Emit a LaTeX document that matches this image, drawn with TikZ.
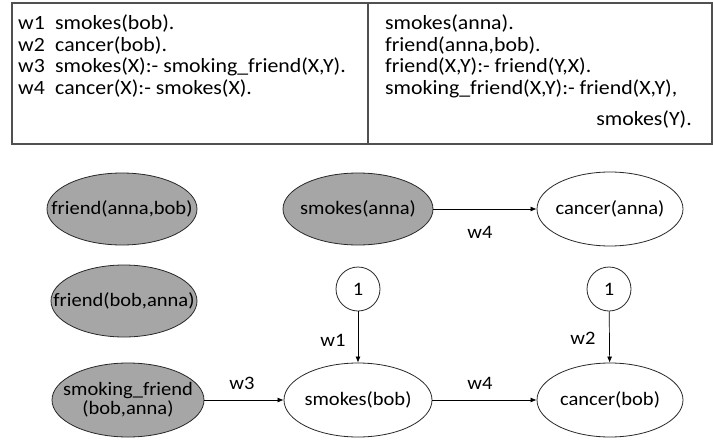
\documentclass[tikz,border=0pt]{standalone}
\usepackage{fontspec}
\setmainfont[FakeStretch=1.08]{Carlito}
\usetikzlibrary{shapes.geometric,arrows.meta}
\definecolor{gfill}{RGB}{166,166,166}
\definecolor{edge}{RGB}{40,40,40}
\definecolor{tborder}{RGB}{80,80,80}
\newcommand{\zw}[1]{\makebox[0pt]{#1}}
\begin{document}
\begin{tikzpicture}[x=1pt,y=-1pt,
  every node/.style={font=\fontsize{19}{21}\selectfont,text=black},
  ell/.style={ellipse,draw=edge,line width=0.8pt,inner sep=0pt,minimum width=148pt,minimum height=72pt,align=center},
  known/.style={ell,fill=gfill},
  num/.style={circle,draw=edge,line width=0.8pt,minimum size=44pt,inner sep=0pt},
  arr/.style={-{Latex[length=6pt,width=5pt]},line width=0.7pt,draw=black},
  lab/.style={inner sep=0pt},
  tfont/.style={font=\fontsize{20.2}{21}\selectfont},
  tline/.style={tfont,anchor=base west,inner sep=0pt}]
\useasboundingbox (0,0) rectangle (713,442);
\fill[white] (0,0) rectangle (713,442);

% table
\draw[tborder,line width=1.3pt] (12,3) rectangle (712,144);
\draw[tborder,line width=1.3pt] (368,3) -- (368,144);
\node[tline] (l1) at (18,29) {\makebox[37pt][l]{w1}smokes(bob).};
\node[tline] (l2) at (18,51) {\makebox[37pt][l]{w2}cancer(bob).};
\node[tline] (l3) at (18,72.5) {\makebox[37pt][l]{w3}smokes(X):- smoking\_friend(X,Y).};
\node[tline] (l4) at (18,94) {\makebox[37pt][l]{w4}cancer(X):- smokes(X).};
\node[tline] (r1) at (385,29) {smokes(anna).};
\node[tline] (r2) at (385,51) {friend(anna,bob).};
\node[tline] (r3) at (385,72.5) {friend(X,Y):- friend(Y,X).};
\node[tline] (r4) at (385,94) {smoking\_friend(X,Y):- friend(X,Y),};
\node[tfont,anchor=base east,inner sep=0pt] (r5) at (692,125) {smokes(Y).};

% graph
\node[known,minimum width=150pt] (fab) at (122,209) {\zw{friend(anna,bob)}};
\node[known,minimum width=146pt] (fba) at (124,301) {\zw{friend(bob,anna)}};
\node[known,minimum width=152pt,minimum height=74pt] (sf) at (128,400) {\zw{smoking\_friend}\\[-2pt]\zw{(bob,anna)}};
\node[known,minimum width=150pt] (sa) at (358,209) {\zw{smokes(anna)}};
\node[ell,minimum width=146pt,minimum height=74pt] (ca) at (610,209) {\zw{cancer(anna)}};
\node[num] (c1) at (358,289) {1};
\node[num] (c2) at (609,289) {1};
\node[ell,minimum width=148pt,minimum height=74pt] (sb) at (358,400) {\zw{smokes(bob)}};
\node[ell,minimum width=146pt,minimum height=74pt] (cb) at (610,400) {\zw{cancer(bob)}};

\draw[arr] (sa) -- (ca);
\draw[arr] (c1) -- (sb);
\draw[arr] (c2) -- (cb);
\draw[arr] (sf) -- (sb);
\draw[arr] (sb) -- (cb);

\node[lab] (w4a) at (480,232) {w4};
\node[lab] (w1) at (333,340) {w1};
\node[lab] (w2) at (583,338) {w2};
\node[lab] (w3) at (242,383) {w3};
\node[lab] (w4b) at (480,383) {w4};
\end{tikzpicture}
\end{document}
